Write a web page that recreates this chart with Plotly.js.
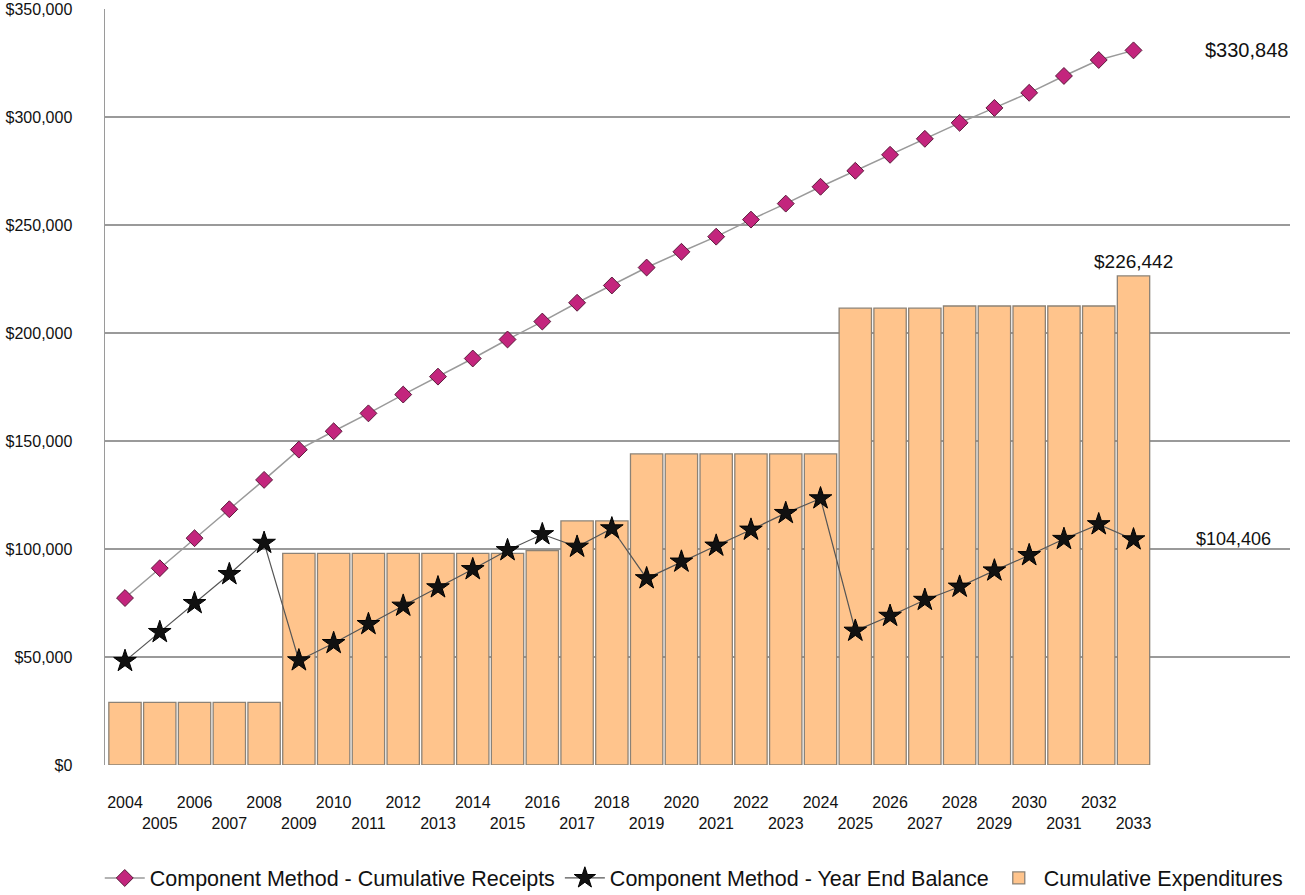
<!DOCTYPE html>
<html>
<head>
<meta charset="utf-8">
<script src="https://cdn.plot.ly/plotly-3.0.1.min.js"></script>
<style>html,body{margin:0;padding:0;background:#fff;}#chart{width:1305px;height:895px;}</style>
</head>
<body>
<div id="chart"></div>
<script>
const years = [2004,2005,2006,2007,2008,2009,2010,2011,2012,2013,2014,2015,2016,2017,2018,2019,2020,2021,2022,2023,2024,2025,2026,2027,2028,2029,2030,2031,2032,2033];
const cumulativeReceipts = [77300,91100,105000,118400,132000,146000,154500,162800,171500,179800,188200,197000,205300,214000,222000,230300,237600,244600,252500,259900,267700,275100,282500,289900,297300,304200,311200,319000,326400,330848];
const yearEndBalance = [48100,61500,74900,88300,102800,48400,56400,65200,73700,82200,90600,99400,106800,101000,109500,86400,94100,101500,108900,116600,123400,62100,69000,76400,82500,90000,97100,104600,111400,104406];
const cumulativeExpenditures = [29000,29000,29000,29000,29000,98000,98000,98000,98000,98000,98000,98000,99300,113000,113000,144000,144000,144000,144000,144000,144000,211500,211500,211500,212500,212500,212500,212500,212500,226442];
const tickLabels = years.map((y,i) => i % 2 === 0 ? String(y) : '<br>' + y);
const yTicks = [0,50000,100000,150000,200000,250000,300000,350000];
const yTickLabels = ['$0','$50,000','$100,000','$150,000','$200,000','$250,000','$300,000','$350,000'];

const fmt = v => '$' + v.toLocaleString('en-US');
const FONT = '"Liberation Sans", Arial, Helvetica, sans-serif';

const traces = [
  {
    type: 'bar', x: years, y: cumulativeExpenditures, name: 'Cumulative Expenditures',
    width: 0.93,
    marker: {color: '#FFC48C', line: {color: '#8c8276', width: 1.3}},
    legendrank: 3
  },
  {
    type: 'scatter', mode: 'lines+markers', x: years, y: cumulativeReceipts,
    name: 'Component Method - Cumulative Receipts',
    line: {color: '#9a9a9a', width: 1.5},
    marker: {symbol: 'diamond', size: 13, color: '#C3257D', line: {color: '#5a1a3a', width: 1}},
    legendrank: 1
  },
  {
    type: 'scatter', mode: 'lines+markers', x: years, y: yearEndBalance,
    name: 'Component Method - Year End Balance',
    line: {color: '#555555', width: 1.2},
    marker: {symbol: 'star', size: 17, color: '#111111', line: {color: '#000', width: 1}},
    legendrank: 2
  }
];

const n = years.length - 1;
const layout = {
  width: 1305, height: 895,
  paper_bgcolor: '#ffffff', plot_bgcolor: '#ffffff',
  margin: {l: 105, r: 15, t: 9, b: 130},
  font: {family: FONT, color: '#111'},
  showlegend: true,
  legend: {
    orientation: 'h', xref: 'container', yref: 'container',
    x: 0.532, xanchor: 'center', y: 0.019, yanchor: 'middle',
    font: {size: 21.5, family: FONT, color: '#111'},
    traceorder: 'normal', itemwidth: 40, tracegroupgap: 0
  },
  xaxis: {
    type: 'linear', range: [2003.425, 2037.5],
    tickmode: 'array', tickvals: years, ticktext: tickLabels,
    tickangle: 0,
    ticks: '', ticklabelstandoff: 26,
    tickfont: {size: 16, family: FONT, color: '#111'},
    showgrid: false, zeroline: false, showline: false
  },
  yaxis: {
    range: [0, 350000],
    tickmode: 'array', tickvals: yTicks, ticktext: yTickLabels,
    tickfont: {size: 16, family: FONT, color: '#111'},
    ticks: '', ticklabelstandoff: 28,
    showgrid: true, gridcolor: '#9a9a9a', gridwidth: 1.5,
    zeroline: false, showline: true, linecolor: '#9a9a9a', linewidth: 1.5
  },
  bargap: 0.05,
  annotations: [
    {x: 0.963, xref: 'paper', y: cumulativeReceipts[n], yref: 'y', text: fmt(cumulativeReceipts[n]),
     showarrow: false, xanchor: 'center', yanchor: 'middle', font: {size: 20, family: FONT, color: '#111'}},
    {x: years[n], xref: 'x', y: cumulativeExpenditures[n], yref: 'y', text: fmt(cumulativeExpenditures[n]),
     showarrow: false, xanchor: 'center', yanchor: 'bottom', yshift: 2, font: {size: 19, family: FONT, color: '#111'}},
    {x: 0.952, xref: 'paper', y: yearEndBalance[n], yref: 'y', text: fmt(yearEndBalance[n]),
     showarrow: false, xanchor: 'center', yanchor: 'middle', font: {size: 18, family: FONT, color: '#111'}}
  ]
};

Plotly.newPlot('chart', traces, layout, {displayModeBar: false, staticPlot: true});
</script>
</body>
</html>
